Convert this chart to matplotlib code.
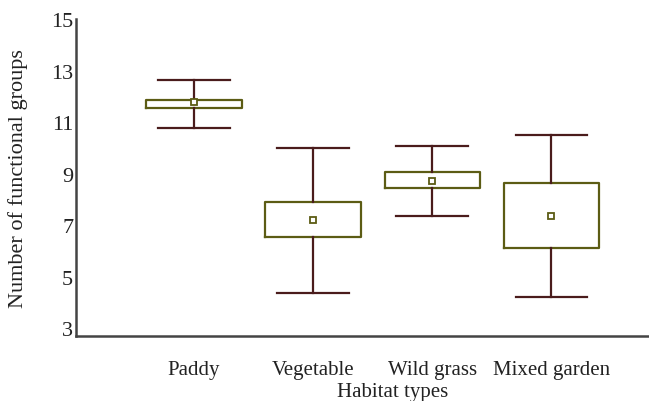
import matplotlib.pyplot as plt

plt.rcParams['font.family'] = ['Liberation Serif', 'DejaVu Serif']

# --- data ---
habitats   = ['Paddy', 'Vegetable', 'Wild grass', 'Mixed garden']
whisk_low  = [10.76, 4.38, 7.37, 4.22]
box_q1     = [11.54, 6.56, 8.46, 6.13]
box_q3     = [11.85, 7.88, 9.05, 8.62]
whisk_high = [12.63, 9.98, 10.06, 10.49]
means      = [11.77, 7.22, 8.70, 7.37]

box_col = '#5c5c14'
whisk_col = '#4a1c1c'

stats = []
for name, lo, q1, q3, hi, m in zip(habitats, whisk_low, box_q1, box_q3, whisk_high, means):
    stats.append(dict(label=name, whislo=lo, q1=q1, med=q1, q3=q3, whishi=hi, mean=m, fliers=[]))

fig = plt.figure(figsize=(6.49, 4.02), dpi=100)
ax = fig.add_axes([76/649, 1 - 337/402, 1 - 76/649, (337 - 20)/402])

ax.bxp(stats, positions=range(1, 5), widths=0.8, showmeans=True, showfliers=False,
       boxprops=dict(color=box_col, linewidth=1.6),
       whiskerprops=dict(color=whisk_col, linewidth=1.6),
       capprops=dict(color=whisk_col, linewidth=1.6),
       capwidths=0.6,
       medianprops=dict(linewidth=0),
       meanprops=dict(marker='s', markersize=4.5, markerfacecolor='white',
                      markeredgecolor=box_col, markeredgewidth=1.3))

ax.set_xlim(0.01, 4.82)
ax.set_ylim(2.7, 15)
ax.set_yticks([3, 5, 7, 9, 11, 13, 15])
ax.set_yticklabels(['3', '5', '7', '9', '11', '13', '15'])

for s in ['top', 'right']:
    ax.spines[s].set_visible(False)
for s in ['left', 'bottom']:
    ax.spines[s].set_color('#444444')
    ax.spines[s].set_linewidth(1.8)

ax.tick_params(axis='both', length=0, colors='#222222')
ax.tick_params(axis='x', pad=17.5, labelsize=15)
ax.tick_params(axis='y', pad=2, labelsize=16)

ax.set_ylabel('Number of functional groups', fontsize=16, color='#222222')
ax.yaxis.set_label_coords(-0.083, 0.5)
ax.set_xlabel('Habitat types', fontsize=15, color='#222222')
ax.xaxis.set_label_coords(0.553, -0.145)

fig.savefig('out.png', dpi=100)
